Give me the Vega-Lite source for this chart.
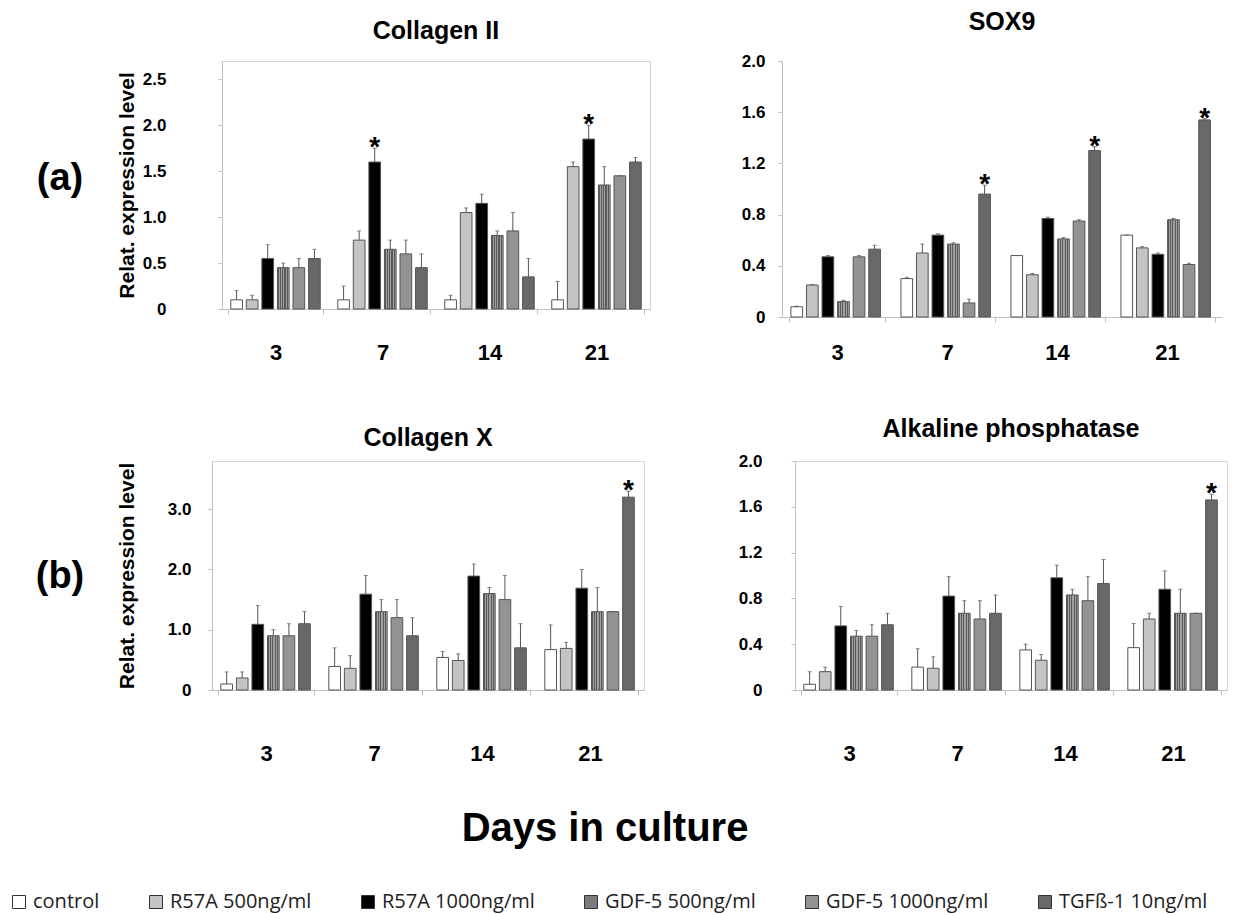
{
"$schema":"https://vega.github.io/schema/vega-lite/v6.json",
"padding":{"left":5,"top":10,"right":0,"bottom":0},
"datasets":{"expr":[
{"p":"Collagen II","d":"3","s":"control","v":0.1,"hi":0.2},
{"p":"Collagen II","d":"3","s":"R57A 500ng/ml","v":0.1,"hi":0.15},
{"p":"Collagen II","d":"3","s":"R57A 1000ng/ml","v":0.55,"hi":0.7},
{"p":"Collagen II","d":"3","s":"GDF-5 500ng/ml","v":0.45,"hi":0.5},
{"p":"Collagen II","d":"3","s":"GDF-5 1000ng/ml","v":0.45,"hi":0.55},
{"p":"Collagen II","d":"3","s":"TGFß-1 10ng/ml","v":0.55,"hi":0.65},
{"p":"Collagen II","d":"7","s":"control","v":0.1,"hi":0.25},
{"p":"Collagen II","d":"7","s":"R57A 500ng/ml","v":0.75,"hi":0.85},
{"p":"Collagen II","d":"7","s":"R57A 1000ng/ml","v":1.6,"hi":1.75,"sig":true},
{"p":"Collagen II","d":"7","s":"GDF-5 500ng/ml","v":0.65,"hi":0.75},
{"p":"Collagen II","d":"7","s":"GDF-5 1000ng/ml","v":0.6,"hi":0.75},
{"p":"Collagen II","d":"7","s":"TGFß-1 10ng/ml","v":0.45,"hi":0.6},
{"p":"Collagen II","d":"14","s":"control","v":0.1,"hi":0.15},
{"p":"Collagen II","d":"14","s":"R57A 500ng/ml","v":1.05,"hi":1.1},
{"p":"Collagen II","d":"14","s":"R57A 1000ng/ml","v":1.15,"hi":1.25},
{"p":"Collagen II","d":"14","s":"GDF-5 500ng/ml","v":0.8,"hi":0.85},
{"p":"Collagen II","d":"14","s":"GDF-5 1000ng/ml","v":0.85,"hi":1.05},
{"p":"Collagen II","d":"14","s":"TGFß-1 10ng/ml","v":0.35,"hi":0.55},
{"p":"Collagen II","d":"21","s":"control","v":0.1,"hi":0.3},
{"p":"Collagen II","d":"21","s":"R57A 500ng/ml","v":1.55,"hi":1.6},
{"p":"Collagen II","d":"21","s":"R57A 1000ng/ml","v":1.85,"hi":2.0,"sig":true},
{"p":"Collagen II","d":"21","s":"GDF-5 500ng/ml","v":1.35,"hi":1.55},
{"p":"Collagen II","d":"21","s":"GDF-5 1000ng/ml","v":1.45,"hi":1.45},
{"p":"Collagen II","d":"21","s":"TGFß-1 10ng/ml","v":1.6,"hi":1.65},
{"p":"SOX9","d":"3","s":"control","v":0.08,"hi":0.085},
{"p":"SOX9","d":"3","s":"R57A 500ng/ml","v":0.25,"hi":0.255},
{"p":"SOX9","d":"3","s":"R57A 1000ng/ml","v":0.47,"hi":0.48},
{"p":"SOX9","d":"3","s":"GDF-5 500ng/ml","v":0.12,"hi":0.13},
{"p":"SOX9","d":"3","s":"GDF-5 1000ng/ml","v":0.47,"hi":0.48},
{"p":"SOX9","d":"3","s":"TGFß-1 10ng/ml","v":0.53,"hi":0.56},
{"p":"SOX9","d":"7","s":"control","v":0.3,"hi":0.31},
{"p":"SOX9","d":"7","s":"R57A 500ng/ml","v":0.5,"hi":0.57},
{"p":"SOX9","d":"7","s":"R57A 1000ng/ml","v":0.64,"hi":0.65},
{"p":"SOX9","d":"7","s":"GDF-5 500ng/ml","v":0.57,"hi":0.58},
{"p":"SOX9","d":"7","s":"GDF-5 1000ng/ml","v":0.11,"hi":0.14},
{"p":"SOX9","d":"7","s":"TGFß-1 10ng/ml","v":0.96,"hi":1.03,"sig":true},
{"p":"SOX9","d":"14","s":"control","v":0.48,"hi":0.48},
{"p":"SOX9","d":"14","s":"R57A 500ng/ml","v":0.33,"hi":0.34},
{"p":"SOX9","d":"14","s":"R57A 1000ng/ml","v":0.77,"hi":0.78},
{"p":"SOX9","d":"14","s":"GDF-5 500ng/ml","v":0.61,"hi":0.62},
{"p":"SOX9","d":"14","s":"GDF-5 1000ng/ml","v":0.75,"hi":0.76},
{"p":"SOX9","d":"14","s":"TGFß-1 10ng/ml","v":1.3,"hi":1.33,"sig":true},
{"p":"SOX9","d":"21","s":"control","v":0.64,"hi":0.64},
{"p":"SOX9","d":"21","s":"R57A 500ng/ml","v":0.54,"hi":0.55},
{"p":"SOX9","d":"21","s":"R57A 1000ng/ml","v":0.49,"hi":0.5},
{"p":"SOX9","d":"21","s":"GDF-5 500ng/ml","v":0.76,"hi":0.77},
{"p":"SOX9","d":"21","s":"GDF-5 1000ng/ml","v":0.41,"hi":0.42},
{"p":"SOX9","d":"21","s":"TGFß-1 10ng/ml","v":1.54,"hi":1.55,"sig":true},
{"p":"Collagen X","d":"3","s":"control","v":0.1,"hi":0.3},
{"p":"Collagen X","d":"3","s":"R57A 500ng/ml","v":0.2,"hi":0.3},
{"p":"Collagen X","d":"3","s":"R57A 1000ng/ml","v":1.09,"hi":1.4},
{"p":"Collagen X","d":"3","s":"GDF-5 500ng/ml","v":0.9,"hi":1.0},
{"p":"Collagen X","d":"3","s":"GDF-5 1000ng/ml","v":0.9,"hi":1.1},
{"p":"Collagen X","d":"3","s":"TGFß-1 10ng/ml","v":1.1,"hi":1.3},
{"p":"Collagen X","d":"7","s":"control","v":0.39,"hi":0.7},
{"p":"Collagen X","d":"7","s":"R57A 500ng/ml","v":0.36,"hi":0.57},
{"p":"Collagen X","d":"7","s":"R57A 1000ng/ml","v":1.59,"hi":1.9},
{"p":"Collagen X","d":"7","s":"GDF-5 500ng/ml","v":1.3,"hi":1.5},
{"p":"Collagen X","d":"7","s":"GDF-5 1000ng/ml","v":1.2,"hi":1.5},
{"p":"Collagen X","d":"7","s":"TGFß-1 10ng/ml","v":0.9,"hi":1.2},
{"p":"Collagen X","d":"14","s":"control","v":0.54,"hi":0.64},
{"p":"Collagen X","d":"14","s":"R57A 500ng/ml","v":0.49,"hi":0.6},
{"p":"Collagen X","d":"14","s":"R57A 1000ng/ml","v":1.89,"hi":2.09},
{"p":"Collagen X","d":"14","s":"GDF-5 500ng/ml","v":1.6,"hi":1.7},
{"p":"Collagen X","d":"14","s":"GDF-5 1000ng/ml","v":1.5,"hi":1.9},
{"p":"Collagen X","d":"14","s":"TGFß-1 10ng/ml","v":0.7,"hi":1.1},
{"p":"Collagen X","d":"21","s":"control","v":0.67,"hi":1.08},
{"p":"Collagen X","d":"21","s":"R57A 500ng/ml","v":0.69,"hi":0.79},
{"p":"Collagen X","d":"21","s":"R57A 1000ng/ml","v":1.69,"hi":2.0},
{"p":"Collagen X","d":"21","s":"GDF-5 500ng/ml","v":1.3,"hi":1.7},
{"p":"Collagen X","d":"21","s":"GDF-5 1000ng/ml","v":1.3,"hi":1.3},
{"p":"Collagen X","d":"21","s":"TGFß-1 10ng/ml","v":3.2,"hi":3.3,"sig":true},
{"p":"ALP","d":"3","s":"control","v":0.05,"hi":0.16},
{"p":"ALP","d":"3","s":"R57A 500ng/ml","v":0.16,"hi":0.2},
{"p":"ALP","d":"3","s":"R57A 1000ng/ml","v":0.56,"hi":0.73},
{"p":"ALP","d":"3","s":"GDF-5 500ng/ml","v":0.47,"hi":0.52},
{"p":"ALP","d":"3","s":"GDF-5 1000ng/ml","v":0.47,"hi":0.57},
{"p":"ALP","d":"3","s":"TGFß-1 10ng/ml","v":0.57,"hi":0.67},
{"p":"ALP","d":"7","s":"control","v":0.2,"hi":0.36},
{"p":"ALP","d":"7","s":"R57A 500ng/ml","v":0.19,"hi":0.29},
{"p":"ALP","d":"7","s":"R57A 1000ng/ml","v":0.82,"hi":0.99},
{"p":"ALP","d":"7","s":"GDF-5 500ng/ml","v":0.67,"hi":0.78},
{"p":"ALP","d":"7","s":"GDF-5 1000ng/ml","v":0.62,"hi":0.78},
{"p":"ALP","d":"7","s":"TGFß-1 10ng/ml","v":0.67,"hi":0.83},
{"p":"ALP","d":"14","s":"control","v":0.35,"hi":0.4},
{"p":"ALP","d":"14","s":"R57A 500ng/ml","v":0.26,"hi":0.31},
{"p":"ALP","d":"14","s":"R57A 1000ng/ml","v":0.98,"hi":1.09},
{"p":"ALP","d":"14","s":"GDF-5 500ng/ml","v":0.83,"hi":0.88},
{"p":"ALP","d":"14","s":"GDF-5 1000ng/ml","v":0.78,"hi":0.99},
{"p":"ALP","d":"14","s":"TGFß-1 10ng/ml","v":0.93,"hi":1.14},
{"p":"ALP","d":"21","s":"control","v":0.37,"hi":0.58},
{"p":"ALP","d":"21","s":"R57A 500ng/ml","v":0.62,"hi":0.67},
{"p":"ALP","d":"21","s":"R57A 1000ng/ml","v":0.88,"hi":1.04},
{"p":"ALP","d":"21","s":"GDF-5 500ng/ml","v":0.67,"hi":0.88},
{"p":"ALP","d":"21","s":"GDF-5 1000ng/ml","v":0.67,"hi":0.67},
{"p":"ALP","d":"21","s":"TGFß-1 10ng/ml","v":1.66,"hi":1.71,"sig":true}
]},
"vconcat":[
 {"vconcat":[
  {"hconcat":[
   {"hconcat":[
    {"width":110,"height":236,"view":{"stroke":null},"data":{"values":[{"t":"(a)"}]},
     "mark":{"type":"text","fontSize":38,"fontWeight":"bold","font":"Liberation Sans","color":"#000"},
     "encoding":{"text":{"field":"t"}}},
    {"width":428,"height":248,"view":{"stroke":"#d4d4d4"},
     "title":{"text":"Collagen II","fontSize":25,"font":"Liberation Sans","fontWeight":"bold","offset":17,"color":"#000"},
     "data":{"name":"expr"},
     "transform":[{"filter":"datum.p == 'Collagen II'"}],
     "encoding":{
      "x":{"field":"d","type":"nominal","sort":["3","7","14","21"],"scale":{"paddingInner":0.12,"paddingOuter":0.06},
       "axis":{"title":null,"labelAngle":0,"labelFont":"Liberation Sans","labelFontSize":22,"labelFontWeight":"bold","labelColor":"#000","labelPadding":28,"domainColor":"#c0c0c0","tickColor":"#c0c0c0","tickBand":"extent","tickSize":5}},
      "xOffset":{"field":"s","type":"nominal","sort":["control","R57A 500ng/ml","R57A 1000ng/ml","GDF-5 500ng/ml","GDF-5 1000ng/ml","TGFß-1 10ng/ml"],"scale":{"paddingInner":0.25,"paddingOuter":0.15}}
     },
     "layer":[
      {"mark":{"type":"bar","stroke":"#555","strokeWidth":1},
       "encoding":{
        "y":{"field":"v","type":"quantitative","scale":{"domain":[0,2.7],"nice":false},
         "axis":{"title":"Relat. expression level","titleFontSize":21,"titleFont":"Liberation Sans","titleFontWeight":"bold","titleColor":"#000","titlePadding":5,"values":[0,0.5,1,1.5,2,2.5],"labelExpr":"datum.value == 0 ? '0' : format(datum.value, '.1f')","labelFont":"Liberation Sans","labelFontSize":17,"labelFontWeight":"bold","labelColor":"#000","labelPadding":52,"domainColor":"#c0c0c0","tickColor":"#c0c0c0","tickSize":4,"grid":false}},
        "color":{"condition":{"test":"datum.s == 'GDF-5 500ng/ml'","value":{"gradient":"linear","x1":0,"x2":1,"y1":0,"y2":0,"stops":[{"offset":0,"color":"#5a5a5a"},{"offset":0.1,"color":"#5a5a5a"},{"offset":0.1,"color":"#a0a0a0"},{"offset":0.2,"color":"#a0a0a0"},{"offset":0.2,"color":"#5a5a5a"},{"offset":0.3,"color":"#5a5a5a"},{"offset":0.3,"color":"#a0a0a0"},{"offset":0.4,"color":"#a0a0a0"},{"offset":0.4,"color":"#5a5a5a"},{"offset":0.5,"color":"#5a5a5a"},{"offset":0.5,"color":"#a0a0a0"},{"offset":0.6,"color":"#a0a0a0"},{"offset":0.6,"color":"#5a5a5a"},{"offset":0.7,"color":"#5a5a5a"},{"offset":0.7,"color":"#a0a0a0"},{"offset":0.8,"color":"#a0a0a0"},{"offset":0.8,"color":"#5a5a5a"},{"offset":0.9,"color":"#5a5a5a"},{"offset":0.9,"color":"#a0a0a0"},{"offset":1,"color":"#a0a0a0"}]}},"field":"s","type":"nominal","scale":{"domain":["control","R57A 500ng/ml","R57A 1000ng/ml","GDF-5 500ng/ml","GDF-5 1000ng/ml","TGFß-1 10ng/ml"],"range":["#ffffff","#c4c4c4","#000000","#7a7a7a","#939393","#686868"]},"legend":{"title":null}}}},
      {"mark":{"type":"rule","color":"#555","strokeWidth":1},"encoding":{"y":{"field":"v","type":"quantitative"},"y2":{"field":"hi"}}},
      {"mark":{"type":"tick","color":"#555","size":4,"thickness":1},"encoding":{"y":{"field":"hi","type":"quantitative"}}},
      {"transform":[{"filter":"datum.sig"}],"mark":{"type":"text","text":"*","fontSize":28,"fontWeight":"bold","font":"Liberation Sans","dy":8,"baseline":"alphabetic","color":"#000"},"encoding":{"y":{"field":"hi","type":"quantitative"}}}
     ]}
   ],"spacing":0},
   {"width":440,"height":256,"view":{"stroke":null},
    "title":{"text":"SOX9","fontSize":25,"font":"Liberation Sans","fontWeight":"bold","offset":17,"color":"#000"},
    "data":{"name":"expr"},
    "transform":[{"filter":"datum.p == 'SOX9'"}],
    "encoding":{
     "x":{"field":"d","type":"nominal","sort":["3","7","14","21"],"scale":{"paddingInner":0.12,"paddingOuter":0.06},
      "axis":{"title":null,"labelAngle":0,"labelFont":"Liberation Sans","labelFontSize":22,"labelFontWeight":"bold","labelColor":"#000","labelPadding":20,"domainColor":"#c0c0c0","tickColor":"#c0c0c0","tickBand":"extent","tickSize":5}},
     "xOffset":{"field":"s","type":"nominal","sort":["control","R57A 500ng/ml","R57A 1000ng/ml","GDF-5 500ng/ml","GDF-5 1000ng/ml","TGFß-1 10ng/ml"],"scale":{"paddingInner":0.25,"paddingOuter":0.15}}
    },
    "layer":[
     {"mark":{"type":"bar","stroke":"#555","strokeWidth":1},
      "encoding":{
       "y":{"field":"v","type":"quantitative","scale":{"domain":[0,2.0],"nice":false},
        "axis":{"title":null,"values":[0,0.4,0.8,1.2,1.6,2.0],"labelExpr":"datum.value == 0 ? '0' : format(datum.value, '.1f')","labelFont":"Liberation Sans","labelFontSize":17,"labelFontWeight":"bold","labelColor":"#000","labelPadding":13,"domainColor":"#c0c0c0","tickColor":"#c0c0c0","tickSize":4,"grid":false}},
       "color":{"condition":{"test":"datum.s == 'GDF-5 500ng/ml'","value":{"gradient":"linear","x1":0,"x2":1,"y1":0,"y2":0,"stops":[{"offset":0,"color":"#5a5a5a"},{"offset":0.1,"color":"#5a5a5a"},{"offset":0.1,"color":"#a0a0a0"},{"offset":0.2,"color":"#a0a0a0"},{"offset":0.2,"color":"#5a5a5a"},{"offset":0.3,"color":"#5a5a5a"},{"offset":0.3,"color":"#a0a0a0"},{"offset":0.4,"color":"#a0a0a0"},{"offset":0.4,"color":"#5a5a5a"},{"offset":0.5,"color":"#5a5a5a"},{"offset":0.5,"color":"#a0a0a0"},{"offset":0.6,"color":"#a0a0a0"},{"offset":0.6,"color":"#5a5a5a"},{"offset":0.7,"color":"#5a5a5a"},{"offset":0.7,"color":"#a0a0a0"},{"offset":0.8,"color":"#a0a0a0"},{"offset":0.8,"color":"#5a5a5a"},{"offset":0.9,"color":"#5a5a5a"},{"offset":0.9,"color":"#a0a0a0"},{"offset":1,"color":"#a0a0a0"}]}},"field":"s","type":"nominal","scale":{"domain":["control","R57A 500ng/ml","R57A 1000ng/ml","GDF-5 500ng/ml","GDF-5 1000ng/ml","TGFß-1 10ng/ml"],"range":["#ffffff","#c4c4c4","#000000","#7a7a7a","#939393","#686868"]},"legend":{"title":null}}}},
     {"mark":{"type":"rule","color":"#555","strokeWidth":1},"encoding":{"y":{"field":"v","type":"quantitative"},"y2":{"field":"hi"}}},
     {"mark":{"type":"tick","color":"#555","size":4,"thickness":1},"encoding":{"y":{"field":"hi","type":"quantitative"}}},
     {"transform":[{"filter":"datum.sig"}],"mark":{"type":"text","text":"*","fontSize":28,"fontWeight":"bold","font":"Liberation Sans","dy":8,"baseline":"alphabetic","color":"#000"},"encoding":{"y":{"field":"hi","type":"quantitative"}}}
    ]}
  ],"spacing":90},
  {"hconcat":[
   {"hconcat":[
    {"width":110,"height":232,"view":{"stroke":null},"data":{"values":[{"t":"(b)"}]},
     "mark":{"type":"text","fontSize":38,"fontWeight":"bold","font":"Liberation Sans","color":"#000"},
     "encoding":{"text":{"field":"t"}}},
    {"width":432,"height":229,"view":{"stroke":"#d4d4d4"},
     "title":{"text":"Collagen X","fontSize":25,"font":"Liberation Sans","fontWeight":"bold","offset":10,"color":"#000"},
     "data":{"name":"expr"},
     "transform":[{"filter":"datum.p == 'Collagen X'"}],
     "encoding":{
      "x":{"field":"d","type":"nominal","sort":["3","7","14","21"],"scale":{"paddingInner":0.12,"paddingOuter":0.06},
       "axis":{"title":null,"labelAngle":0,"labelFont":"Liberation Sans","labelFontSize":22,"labelFontWeight":"bold","labelColor":"#000","labelPadding":48,"domainColor":"#c0c0c0","tickColor":"#c0c0c0","tickBand":"extent","tickSize":5}},
      "xOffset":{"field":"s","type":"nominal","sort":["control","R57A 500ng/ml","R57A 1000ng/ml","GDF-5 500ng/ml","GDF-5 1000ng/ml","TGFß-1 10ng/ml"],"scale":{"paddingInner":0.25,"paddingOuter":0.15}}
     },
     "layer":[
      {"mark":{"type":"bar","stroke":"#555","strokeWidth":1},
       "encoding":{
        "y":{"field":"v","type":"quantitative","scale":{"domain":[0,3.8],"nice":false},
         "axis":{"title":"Relat. expression level","titleFontSize":21,"titleFont":"Liberation Sans","titleFontWeight":"bold","titleColor":"#000","titlePadding":30,"values":[0,1,2,3],"labelExpr":"datum.value == 0 ? '0' : format(datum.value, '.1f')","labelFont":"Liberation Sans","labelFontSize":17,"labelFontWeight":"bold","labelColor":"#000","labelPadding":17,"domainColor":"#c0c0c0","tickColor":"#c0c0c0","tickSize":4,"grid":false}},
        "color":{"condition":{"test":"datum.s == 'GDF-5 500ng/ml'","value":{"gradient":"linear","x1":0,"x2":1,"y1":0,"y2":0,"stops":[{"offset":0,"color":"#5a5a5a"},{"offset":0.1,"color":"#5a5a5a"},{"offset":0.1,"color":"#a0a0a0"},{"offset":0.2,"color":"#a0a0a0"},{"offset":0.2,"color":"#5a5a5a"},{"offset":0.3,"color":"#5a5a5a"},{"offset":0.3,"color":"#a0a0a0"},{"offset":0.4,"color":"#a0a0a0"},{"offset":0.4,"color":"#5a5a5a"},{"offset":0.5,"color":"#5a5a5a"},{"offset":0.5,"color":"#a0a0a0"},{"offset":0.6,"color":"#a0a0a0"},{"offset":0.6,"color":"#5a5a5a"},{"offset":0.7,"color":"#5a5a5a"},{"offset":0.7,"color":"#a0a0a0"},{"offset":0.8,"color":"#a0a0a0"},{"offset":0.8,"color":"#5a5a5a"},{"offset":0.9,"color":"#5a5a5a"},{"offset":0.9,"color":"#a0a0a0"},{"offset":1,"color":"#a0a0a0"}]}},"field":"s","type":"nominal","scale":{"domain":["control","R57A 500ng/ml","R57A 1000ng/ml","GDF-5 500ng/ml","GDF-5 1000ng/ml","TGFß-1 10ng/ml"],"range":["#ffffff","#c4c4c4","#000000","#7a7a7a","#939393","#686868"]},"legend":{"title":null}}}},
      {"mark":{"type":"rule","color":"#555","strokeWidth":1},"encoding":{"y":{"field":"v","type":"quantitative"},"y2":{"field":"hi"}}},
      {"mark":{"type":"tick","color":"#555","size":4,"thickness":1},"encoding":{"y":{"field":"hi","type":"quantitative"}}},
      {"transform":[{"filter":"datum.sig"}],"mark":{"type":"text","text":"*","fontSize":28,"fontWeight":"bold","font":"Liberation Sans","dy":8,"baseline":"alphabetic","color":"#000"},"encoding":{"y":{"field":"hi","type":"quantitative"}}}
     ]}
   ],"spacing":0},
   {"width":432,"height":229,"view":{"stroke":"#d4d4d4"},
    "title":{"text":"Alkaline phosphatase","fontSize":25,"font":"Liberation Sans","fontWeight":"bold","offset":10,"color":"#000"},
    "data":{"name":"expr"},
    "transform":[{"filter":"datum.p == 'ALP'"}],
    "encoding":{
     "x":{"field":"d","type":"nominal","sort":["3","7","14","21"],"scale":{"paddingInner":0.12,"paddingOuter":0.06},
      "axis":{"title":null,"labelAngle":0,"labelFont":"Liberation Sans","labelFontSize":22,"labelFontWeight":"bold","labelColor":"#000","labelPadding":48,"domainColor":"#c0c0c0","tickColor":"#c0c0c0","tickBand":"extent","tickSize":5}},
     "xOffset":{"field":"s","type":"nominal","sort":["control","R57A 500ng/ml","R57A 1000ng/ml","GDF-5 500ng/ml","GDF-5 1000ng/ml","TGFß-1 10ng/ml"],"scale":{"paddingInner":0.25,"paddingOuter":0.15}}
    },
    "layer":[
     {"mark":{"type":"bar","stroke":"#555","strokeWidth":1},
      "encoding":{
       "y":{"field":"v","type":"quantitative","scale":{"domain":[0,2.0],"nice":false},
        "axis":{"title":null,"values":[0,0.4,0.8,1.2,1.6,2.0],"labelExpr":"datum.value == 0 ? '0' : format(datum.value, '.1f')","labelFont":"Liberation Sans","labelFontSize":17,"labelFontWeight":"bold","labelColor":"#000","labelPadding":29,"domainColor":"#c0c0c0","tickColor":"#c0c0c0","tickSize":4,"grid":false}},
       "color":{"condition":{"test":"datum.s == 'GDF-5 500ng/ml'","value":{"gradient":"linear","x1":0,"x2":1,"y1":0,"y2":0,"stops":[{"offset":0,"color":"#5a5a5a"},{"offset":0.1,"color":"#5a5a5a"},{"offset":0.1,"color":"#a0a0a0"},{"offset":0.2,"color":"#a0a0a0"},{"offset":0.2,"color":"#5a5a5a"},{"offset":0.3,"color":"#5a5a5a"},{"offset":0.3,"color":"#a0a0a0"},{"offset":0.4,"color":"#a0a0a0"},{"offset":0.4,"color":"#5a5a5a"},{"offset":0.5,"color":"#5a5a5a"},{"offset":0.5,"color":"#a0a0a0"},{"offset":0.6,"color":"#a0a0a0"},{"offset":0.6,"color":"#5a5a5a"},{"offset":0.7,"color":"#5a5a5a"},{"offset":0.7,"color":"#a0a0a0"},{"offset":0.8,"color":"#a0a0a0"},{"offset":0.8,"color":"#5a5a5a"},{"offset":0.9,"color":"#5a5a5a"},{"offset":0.9,"color":"#a0a0a0"},{"offset":1,"color":"#a0a0a0"}]}},"field":"s","type":"nominal","scale":{"domain":["control","R57A 500ng/ml","R57A 1000ng/ml","GDF-5 500ng/ml","GDF-5 1000ng/ml","TGFß-1 10ng/ml"],"range":["#ffffff","#c4c4c4","#000000","#7a7a7a","#939393","#686868"]},"legend":{"title":null}}}},
     {"mark":{"type":"rule","color":"#555","strokeWidth":1},"encoding":{"y":{"field":"v","type":"quantitative"},"y2":{"field":"hi"}}},
     {"mark":{"type":"tick","color":"#555","size":4,"thickness":1},"encoding":{"y":{"field":"hi","type":"quantitative"}}},
     {"transform":[{"filter":"datum.sig"}],"mark":{"type":"text","text":"*","fontSize":28,"fontWeight":"bold","font":"Liberation Sans","dy":8,"baseline":"alphabetic","color":"#000"},"encoding":{"y":{"field":"hi","type":"quantitative"}}}
    ]}
  ],"spacing":92}
 ],"spacing":52},
 {"width":1200,"height":50,"view":{"stroke":null},"data":{"values":[{"t":"Days in culture"}]},
  "mark":{"type":"text","fontSize":40,"fontWeight":"bold","font":"Liberation Sans","color":"#000"},
  "encoding":{"text":{"field":"t"}}}
],
"spacing":39,
"config":{
 "font":"Liberation Sans",
 "view":{"stroke":null},
 "legend":{"orient":"bottom","direction":"horizontal","columns":6,"gridAlign":"none","symbolType":"square","symbolSize":169,"symbolStrokeColor":"#333","symbolStrokeWidth":1,"labelFont":"Open Sans","labelFontSize":20,"labelColor":"#222","columnPadding":46,"offset":34,"padding":4,"labelLimit":300,"labelOffset":4}
}
}
